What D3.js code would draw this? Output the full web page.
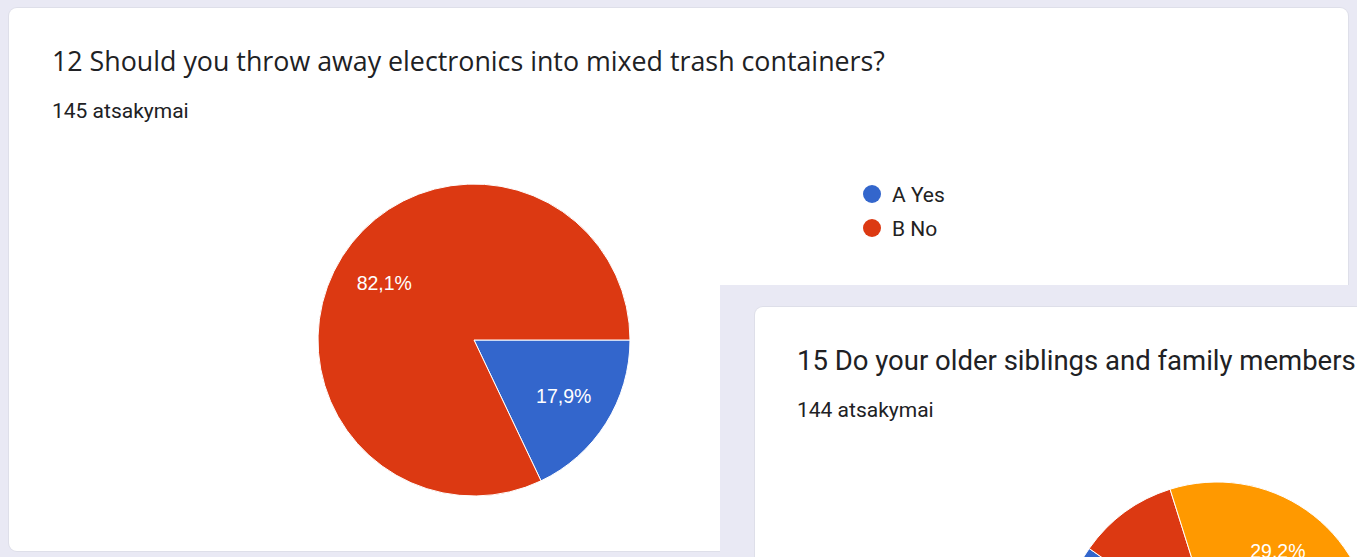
<!DOCTYPE html>
<html>
<head>
<meta charset="utf-8">
<script src="https://cdnjs.cloudflare.com/ajax/libs/d3/7.8.5/d3.min.js"></script>
<style>
  html, body { margin: 0; padding: 0; background: #e9e9f4; overflow: hidden; }
  svg { display: block; }
</style>
</head>
<body>
<div id="chart"></div>
<script>
// klausimas 12
const q12Title = '12 Should you throw away electronics into mixed trash containers?'
const q12Answers = '145 atsakymai'
const q12Labels = ['A Yes', 'B No']
const q12Counts = [26, 119]

// klausimas 15 (matosi tik dalis)
const q15Title = '15 Do your older siblings and family members'
const q15Answers = '144 atsakymai'
const q15Labels = ['A', 'B', 'C', 'D']
const q15Counts = [86, 15, 42, 1]

const sliceColors = ['#3366cc', '#dc3912', '#ff9900', '#109618']

const width = 1357
const height = 557

const svg = d3.select('#chart')
    .append('svg')
    .attr('width', width)
    .attr('height', height)

svg.append('rect')
    .attr('width', width)
    .attr('height', height)
    .attr('fill', '#e9e9f4')

// vienos kortelės piešimas
function drawCard(g, opt) {
    g.append('rect')
        .attr('x', opt.x - 1).attr('y', opt.y - 1)
        .attr('width', opt.w + 2).attr('height', opt.h + 2)
        .attr('rx', 9)
        .attr('fill', '#dedfe9')
    g.append('rect')
        .attr('x', opt.x).attr('y', opt.y)
        .attr('width', opt.w).attr('height', opt.h)
        .attr('rx', 8)
        .attr('fill', '#ffffff')

    g.append('text')
        .attr('x', opt.x + opt.pad)
        .attr('y', opt.y + 63)
        .attr('fill', '#202124')
        .style('font-family', opt.titleFont)
        .style('font-size', opt.titleSize + 'px')
        .text(opt.title)

    g.append('text')
        .attr('x', opt.x + opt.pad)
        .attr('y', opt.y + 110)
        .attr('fill', '#202124')
        .style('font-family', 'Roboto, sans-serif')
        .style('font-size', '21px')
        .text(opt.answers)

    const total = d3.sum(opt.counts)
    const pie = d3.pie()
        .sort(null)
        .startAngle(Math.PI / 2)
        .endAngle(Math.PI / 2 + 2 * Math.PI)
        .value(d => d)

    const arc = d3.arc().innerRadius(0).outerRadius(opt.r)
    const labelArc = d3.arc().innerRadius(opt.r * 0.68).outerRadius(opt.r * 0.68)
    const color = d3.scaleOrdinal().domain(opt.labels).range(sliceColors)

    const pieG = g.append('g')
        .attr('transform', 'translate(' + opt.cx + ',' + opt.cy + ')')

    const arcs = pie(opt.counts)

    pieG.selectAll('path')
        .data(arcs)
        .enter()
        .append('path')
        .attr('d', arc)
        .attr('fill', (d, i) => color(opt.labels[i]))
        .attr('stroke', '#ffffff')
        .attr('stroke-width', 1)

    const fmt = v => (Math.round(v * 1000) / 10).toFixed(1).replace('.', ',') + '%'

    pieG.selectAll('text')
        .data(arcs.filter(d => d.value / total > 0.15))
        .enter()
        .append('text')
        .attr('transform', d => 'translate(' + labelArc.centroid(d) + ')')
        .attr('text-anchor', 'middle')
        .attr('dy', '0.35em')
        .attr('fill', '#ffffff')
        .style('font-family', 'Arial, "Liberation Sans", sans-serif')
        .style('font-size', '19.5px')
        .text(d => fmt(d.value / total))

    // legenda (antroje kortelėje ji už kadro ribų)
    if (opt.legendX === undefined) return
    const legend = g.append('g')
        .attr('transform', 'translate(' + opt.legendX + ',' + opt.legendY + ')')
    const items = legend.selectAll('g')
        .data(opt.labels)
        .enter()
        .append('g')
        .attr('transform', (d, i) => 'translate(0,' + i * 34 + ')')
    items.append('circle')
        .attr('r', 9)
        .attr('fill', d => color(d))
    items.append('text')
        .attr('x', 20)
        .attr('dy', '0.36em')
        .attr('fill', '#222222')
        .style('font-family', 'Roboto, sans-serif')
        .style('font-size', '21px')
        .text(d => d)
}

drawCard(svg.append('g'), {
    x: 9, y: 8, w: 1339, h: 543, pad: 43,
    title: q12Title, answers: q12Answers,
    titleFont: '"Open Sans", sans-serif', titleSize: 26.8,
    labels: q12Labels, counts: q12Counts,
    cx: 474, cy: 340, r: 156,
    legendX: 872, legendY: 194
})

// antros kortelės fonas (įklijuotas fragmentas)
svg.append('rect')
    .attr('x', 720).attr('y', 285)
    .attr('width', width - 720).attr('height', height - 285)
    .attr('fill', '#e9e9f4')

drawCard(svg.append('g'), {
    x: 755, y: 307, w: 1339, h: 543, pad: 42,
    title: q15Title, answers: q15Answers,
    titleFont: 'Roboto, sans-serif', titleSize: 27.5,
    labels: q15Labels, counts: q15Counts,
    cx: 1217, cy: 638, r: 156
})
</script>
</body>
</html>
